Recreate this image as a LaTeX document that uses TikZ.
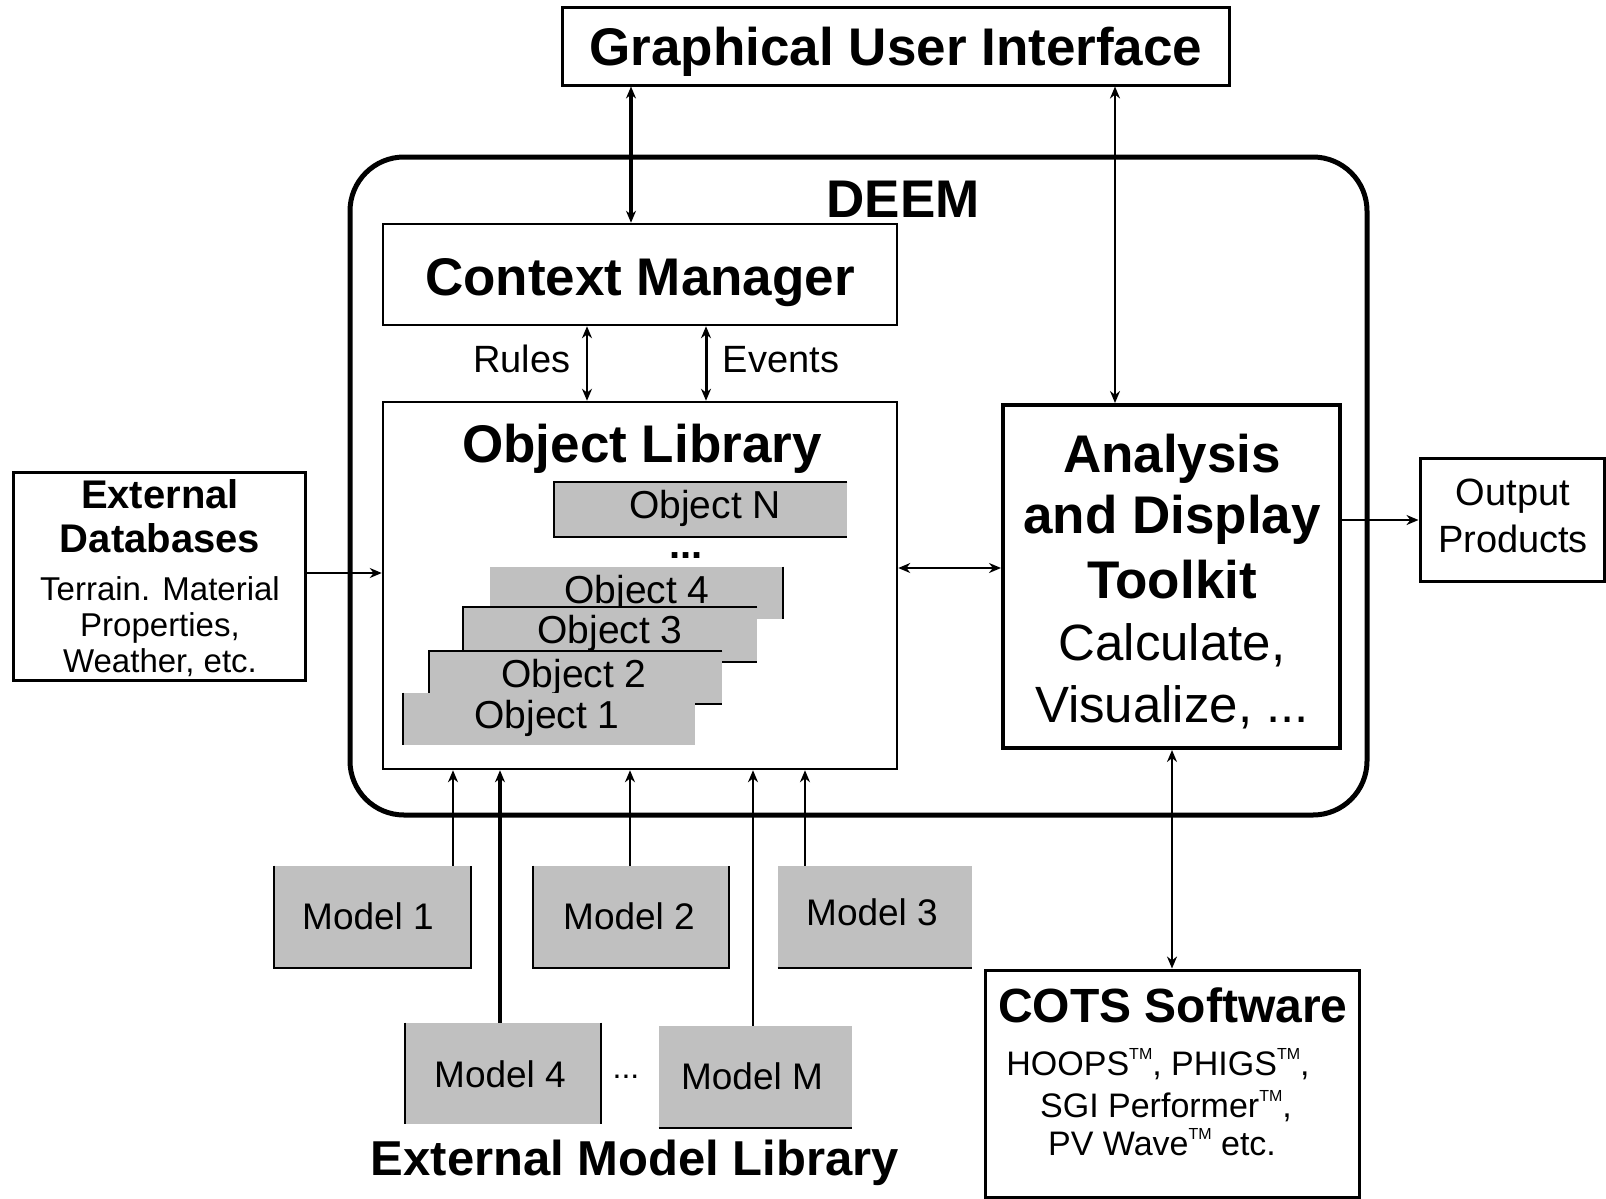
\documentclass[tikz,border=0pt]{standalone}
\usepackage{fontspec}
\setmainfont{Liberation Sans}
\usetikzlibrary{arrows.meta,fit}
\definecolor{boxgray}{RGB}{192,192,192}
\newcommand{\tmark}{\raisebox{0.45em}{\fontsize{8}{8}\selectfont TM}}
\tikzset{
  box/.style={draw, line width=1.25pt, inner sep=0pt},
  gbox/.style={fill=boxgray, inner sep=0pt},
  edgeline/.style={line width=1pt},
  conn/.style={line width=1pt},
  connthick/.style={line width=2pt},
  connmid/.style={line width=1.5pt},
  txt/.style={anchor=base, inner sep=0pt},
  tbig/.style={txt, font=\fontsize{26.5}{30}\selectfont\bfseries},
  tbigr/.style={txt, font=\fontsize{25.5}{30}\selectfont},
  tlib/.style={txt, font=\fontsize{24.5}{28}\selectfont\bfseries},
  tcots/.style={txt, font=\fontsize{24}{28}\selectfont\bfseries},
  tcotsr/.style={txt, font=\fontsize{17}{20}\selectfont},
  tdbb/.style={txt, font=\fontsize{20}{24}\selectfont\bfseries},
  tdbr/.style={txt, font=\fontsize{16.5}{19}\selectfont},
  tobj/.style={txt, font=\fontsize{19.5}{22}\selectfont},
  tmod/.style={txt, font=\fontsize{18.5}{22}\selectfont},
  tlab/.style={txt, font=\fontsize{19}{22}\selectfont},
  >={Stealth[length=6pt,width=5pt]}
}
\begin{document}
\begin{tikzpicture}[x=0.5pt,y=-0.5pt]
\useasboundingbox (0,0) rectangle (1606,1199);

% DEEM container
\node[draw, line width=2.5pt, rounded corners=27pt, inner sep=0pt, fit={(350,157)(1367,815)}] (deem) {};
\node[tbig] (deemt) at (903,217) {DEEM};

% GUI
\node[box, line width=1.5pt, fit={(562,7)(1229,85)}] (gui) {};
\node[tbig] (guit) at (896,65) {Graphical User Interface};

% Context manager
\node[box, fit={(383,224)(897,325)}] (cm) {};
\node[tbig] (cmt) at (640,295) {Context Manager};

% Object library
\node[box, fit={(383,402)(897,769)}] (ol) {};
\node[tbig] (olt) at (642,462) {Object Library};

% Objects
\node[gbox, fit={(554,482)(847,537)}] (objN) {};
\draw[edgeline] (objN.north east) -- (objN.north west) -- (objN.south west) -- (objN.south east);
\node[tobj] (objNt) at (705,518) {Object N};
\node[txt, font=\fontsize{20}{24}\selectfont\bfseries] (odots) at (686,558) {...};

\node[gbox, fit={(490,567)(783,619)}] (obj4) {};
\draw[edgeline] (obj4.north east) -- (obj4.south east);
\node[tobj] (obj4t) at (637,603) {Object 4};

\node[gbox, fit={(463,607)(757,662)}] (obj3) {};
\draw[edgeline] (obj3.north east) -- (obj3.north west) -- (obj3.south west) -- (obj3.south east);
\node[tobj] (obj3t) at (610,643) {Object 3};

\node[gbox, fit={(429,651)(722,704)}] (obj2) {};
\draw[edgeline] (obj2.north east) -- (obj2.north west) -- (obj2.south west) -- (obj2.south east);
\node[tobj] (obj2t) at (574,687) {Object 2};

\node[gbox, fit={(403,693)(695,745)}] (obj1) {};
\draw[edgeline] (obj1.north west) -- (obj1.south west);
\node[tobj] (obj1t) at (547,728) {Object 1};

% Analysis and display toolkit
\node[box, line width=2pt, fit={(1003,405)(1340,748)}] (adt) {};
\node[tbig] (adt1) at (1172,472) {Analysis};
\node[tbig] (adt2) at (1172,533) {and Display};
\node[tbig] (adt3) at (1172,598) {Toolkit};
\node[tbigr] (adt4) at (1172,660) {Calculate,};
\node[tbigr] (adt5) at (1172,722) {Visualize, ...};

% Output products
\node[box, line width=1.5pt, fit={(1420,458)(1604,581)}] (out) {};
\node[tlab] (out1) at (1513,505) {Output};
\node[tlab] (out2) at (1513,552) {Products};

% External databases
\node[box, line width=1.5pt, fit={(13,472)(305,680)}] (edb) {};
\node[tdbb] (edb1) at (160,508) {External};
\node[tdbb] (edb2) at (160,552) {Databases};
\node[tdbr] (edb3) at (160,600) {Terrain. Material};
\node[tdbr] (edb4) at (160,636) {Properties,};
\node[tdbr] (edb5) at (160,672) {Weather, etc.};

% COTS
\node[box, line width=1.5pt, fit={(985,970)(1359,1197)}] (cots) {};
\node[tcots] (cots1) at (1173,1022) {COTS Software};
\node[tcotsr] (cots2) at (1158,1075) {HOOPS\tmark, PHIGS\tmark,};
\node[tcotsr] (cots3) at (1166,1117) {SGI Performer\tmark,};
\node[tcotsr] (cots4) at (1162,1155) {PV Wave\tmark\ etc.};

% Models
\node[gbox, fit={(274,866)(471,968)}] (m1) {};
\draw[edgeline] (m1.north west) -- (m1.south west) -- (m1.south east) -- (m1.north east);
\node[tmod] (m1t) at (368,929) {Model 1};

\node[gbox, fit={(533,866)(729,968)}] (m2) {};
\draw[edgeline] (m2.north west) -- (m2.south west) -- (m2.south east) -- (m2.north east);
\node[tmod] (m2t) at (629,929) {Model 2};

\node[gbox, fit={(778,866)(972,968)}] (m3) {};
\draw[edgeline] (m3.south west) -- (m3.south east);
\node[tmod] (m3t) at (872,925) {Model 3};

\node[gbox, fit={(405,1023)(601,1124)}] (m4) {};
\draw[edgeline] (m4.north west) -- (m4.south west);
\draw[edgeline] (m4.north east) -- (m4.south east);
\node[tmod] (m4t) at (500,1087) {Model 4};

\node[gbox, fit={(659,1026)(852,1128)}] (mM) {};
\draw[edgeline] (mM.south west) -- (mM.south east);
\node[tmod] (mMt) at (752,1089) {Model M};

\node[txt, font=\fontsize{16}{19}\selectfont] (mdots) at (626,1078) {...};
\node[tlib] (libt) at (635,1175) {External Model Library};

% Connector coordinates
\coordinate (xg1) at (631,0);
\coordinate (xg2) at (1115,0);
\coordinate (xr) at (587,0);
\coordinate (xe) at (706,0);
\coordinate (xc) at (1172,0);
\coordinate (ydb) at (0,573);
\coordinate (yol) at (0,568);
\coordinate (yout) at (0,520);
\coordinate (xm1) at (453,0);
\coordinate (xm4) at (500,0);
\coordinate (xm2) at (630,0);
\coordinate (xmM) at (753,0);
\coordinate (xm3) at (805,0);

% Connectors
\draw[connthick, <->] (gui.south -| xg1) -- (cm.north -| xg1);
\draw[conn, <->] (gui.south -| xg2) -- (adt.north -| xg2);
\draw[conn, <->] (cm.south -| xr) -- (ol.north -| xr);
\draw[connmid, <->] (cm.south -| xe) -- (ol.north -| xe);
\node[tlab] (rules) at (522,372) {Rules};
\node[tlab] (events) at (781,372) {Events};
\draw[conn, ->] (edb.east |- ydb) -- (ol.west |- ydb);
\draw[conn, <->] (ol.east |- yol) -- (adt.west |- yol);
\draw[conn, ->] (adt.east |- yout) -- (out.west |- yout);
\draw[conn, <->] (adt.south -| xc) -- (cots.north -| xc);

\draw[conn, ->] (m1.north -| xm1) -- (ol.south -| xm1);
\draw[connthick, ->] (m4.north -| xm4) -- (ol.south -| xm4);
\draw[conn, ->] (m2.north -| xm2) -- (ol.south -| xm2);
\draw[conn, ->] (mM.north -| xmM) -- (ol.south -| xmM);
\draw[conn, ->] (m3.north -| xm3) -- (ol.south -| xm3);
\end{tikzpicture}
\end{document}
